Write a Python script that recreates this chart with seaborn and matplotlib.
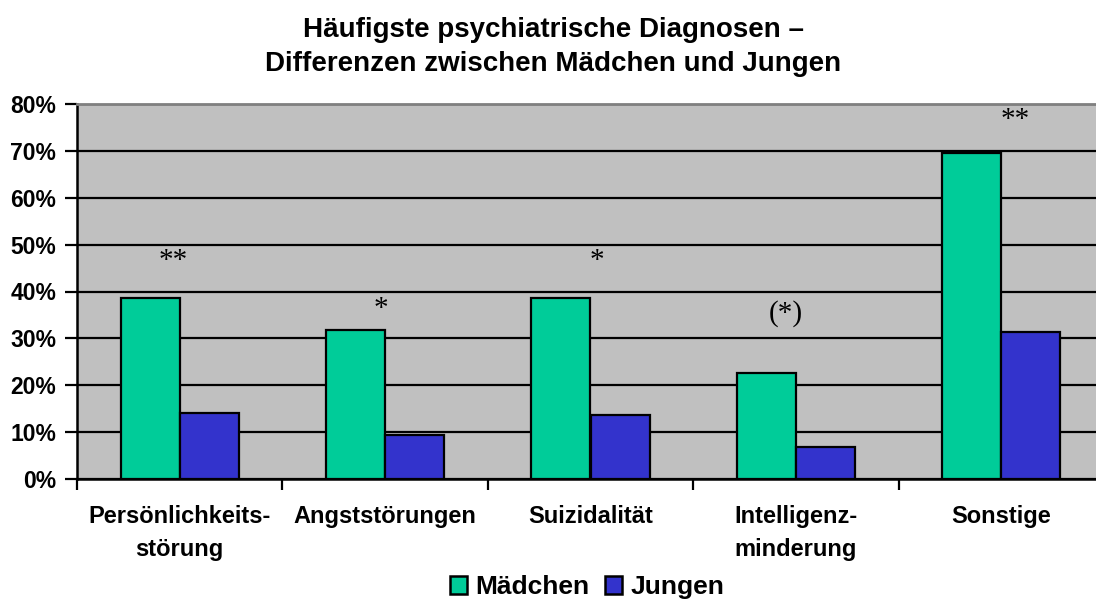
import matplotlib
matplotlib.use("Agg")
import matplotlib.pyplot as plt
import seaborn as sns
import pandas as pd
from matplotlib.patches import Patch

categories = ["Persönlichkeits-\nstörung", "Angststörungen", "Suizidalität",
              "Intelligenz-\nminderung", "Sonstige"]
maedchen = [38.6, 31.8, 38.6, 22.7, 69.6]
jungen = [14.1, 9.4, 13.6, 6.8, 31.4]
series_names = ["Mädchen", "Jungen"]
signif = ["**", "*", "*", "(*)", "**"]
signif_y = [46.4, 36.3, 46.4, 35.3, 76.6]
signif_dx = [-0.03, -0.02, 0.03, -0.05, 0.07]
yticks = [0, 10, 20, 30, 40, 50, 60, 70, 80]
ytick_labels = ["0%", "10%", "20%", "30%", "40%", "50%", "60%", "70%", "80%"]

colors = ["#00CC99", "#3333CC"]

df = pd.DataFrame({
    "cat": categories * 2,
    "val": maedchen + jungen,
    "series": [series_names[0]] * len(categories) + [series_names[1]] * len(categories),
})

sns.set_style("white")
plt.rcParams['font.family'] = ['Liberation Sans', 'DejaVu Sans']
plt.rcParams['text.color'] = 'black'
plt.rcParams['xtick.color'] = 'black'
plt.rcParams['ytick.color'] = 'black'

fig = plt.figure(figsize=(10.96, 6.02), dpi=100)
ax = fig.add_axes([77 / 1096, (602 - 479) / 602, 1027 / 1096, 375 / 602])
ax.set_facecolor("#C0C0C0")

sns.barplot(data=df, x="cat", y="val", hue="series", palette=colors, saturation=1,
            width=0.576, gap=0, edgecolor="black", linewidth=1.6,
            ax=ax, legend=False, zorder=3)

ax.set_ylim(0, 80)
ax.set_xlim(-0.5, 4.5)
ax.set_yticks(yticks)
ax.set_yticklabels(ytick_labels, fontsize=16.5, fontweight="bold")
ax.yaxis.grid(True, color="black", linewidth=1.6, zorder=1)
ax.set_axisbelow(True)
ax.tick_params(axis="y", length=9, width=1.6, direction="out", pad=6, left=True)

ax.set_xticks(range(len(categories)))
ax.set_xticklabels(categories, fontsize=17, fontweight="bold", linespacing=1.55)
ax.tick_params(axis="x", which="major", length=0, pad=19)
ax.set_xticks([i - 0.5 for i in range(len(categories) + 1)], minor=True)
ax.tick_params(axis="x", which="minor", length=8, width=1.6, direction="out", bottom=True)

ax.set_xlabel("")
ax.set_ylabel("")

for side in ["left", "bottom"]:
    ax.spines[side].set_color("black")
    ax.spines[side].set_linewidth(1.8)
ax.spines["top"].set_color("#808080")
ax.spines["top"].set_linewidth(2)
ax.spines["right"].set_visible(False)

for i, (s, y) in enumerate(zip(signif, signif_y)):
    ax.text(i + signif_dx[i], y, s, ha="center", va="center", fontsize=21,
            family="Liberation Serif", zorder=5)

fig.text(0.505, 1 - 47 / 602, "Häufigste psychiatrische Diagnosen –\nDifferenzen zwischen Mädchen und Jungen",
         ha="center", va="center", fontsize=20, fontweight="bold", linespacing=1.4)

handles = [Patch(facecolor=c, edgecolor="black", linewidth=1.8) for c in colors]
fig.legend(handles, series_names, loc="center", bbox_to_anchor=(587 / 1096, 1 - 587 / 602),
           ncol=2, frameon=False, prop={"size": 19, "weight": "bold"},
           handlelength=0.65, handleheight=0.65, handletextpad=0.3, columnspacing=0.6,
           borderpad=0, borderaxespad=0)

fig.savefig("out.png", dpi=100)
